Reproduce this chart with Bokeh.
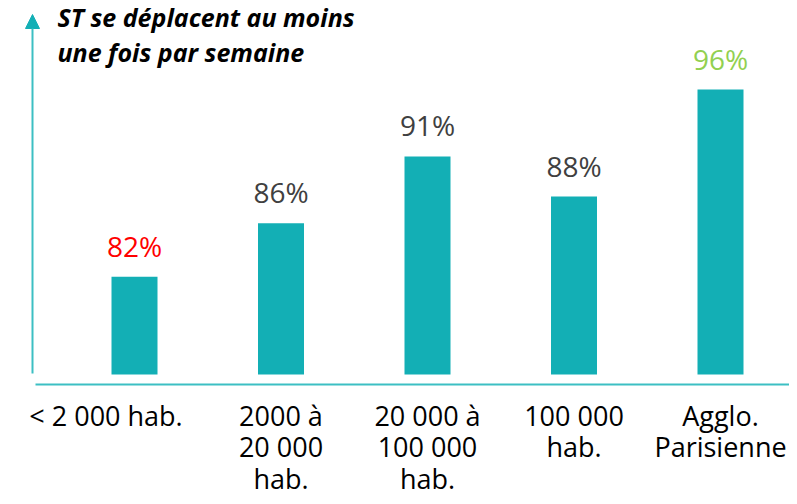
from bokeh.plotting import figure
from bokeh.models import Range1d, ColumnDataSource, Label, Arrow, NormalHead
from bokeh.core.properties import value
from bokeh.embed import file_html
from bokeh.resources import INLINE

categories = ["< 2 000 hab.", "2000 à\n20 000\nhab.", "20 000 à\n100 000\nhab.", "100 000\nhab.", "Agglo.\nParisienne"]
percents = [82, 86, 91, 88, 96]
label_colors = ["#FF0000", "#404040", "#404040", "#404040", "#92D050"]
title_lines = ["ST se déplacent au moins", "une fois par semaine"]

W, H = 789, 496
# pixel geometry (canvas coordinates, y from top)
x0_px, dx_px = 134.0, 146.5
base_px, scale = 374.0, 13.375
base_val = 74.7

def px2x(px):
    return (px - x0_px) / dx_px

def px2y(py):
    return base_val + (base_px - py) / scale

p = figure(width=W, height=H, output_backend="svg", toolbar_location=None,
           x_range=Range1d(px2x(0), px2x(W)), y_range=Range1d(px2y(H), px2y(0)),
           min_border=0, outline_line_color=None)
p.axis.visible = False
p.grid.visible = False
p.background_fill_color = "white"
p.border_fill_color = "white"

xs = list(range(len(categories)))
src = ColumnDataSource(dict(x=xs, top=percents, lab=[f"{v}%" for v in percents],
                            col=label_colors, cat=categories))

p.vbar(x="x", top="top", bottom=base_val, width=46 / dx_px, source=src,
       fill_color="#13AFB5", line_color=None)

p.text(x="x", y="top", text="lab", source=src, text_color="col",
       text_font=value("Open Sans"), text_font_size="28px",
       text_align="center", text_baseline="alphabetic", y_offset=-31)

lab_x = [px2x(105.5)] + xs[1:]
src2 = ColumnDataSource(dict(x=lab_x, t=categories))
p.text(x="x", y=px2y(396), text="t", source=src2, text_color="#000000",
       text_font=value("Open Sans"), text_font_size="27px", text_line_height=0.86,
       text_align="center", text_baseline="top")

# axes lines
axis_col = "#3CBFC3"
p.segment(x0=[px2x(35)], y0=[px2y(384)], x1=[px2x(W)], y1=[px2y(384)],
          line_color=axis_col, line_width=2)
p.add_layout(Arrow(end=NormalHead(size=14, fill_color="#13AFB5", line_color="#13AFB5"),
                   x_start=px2x(32), y_start=px2y(373), x_end=px2x(32), y_end=px2y(14),
                   line_color=axis_col, line_width=2))

for i, t in enumerate(title_lines):
    p.add_layout(Label(x=57, y=H - 33 - 35 * i, x_units="screen", y_units="screen",
                       text=t, text_font="Open Sans", text_font_size="25px",
                       text_font_style="bold italic", text_color="#000000"))

open("out.html", "w").write(file_html(p, INLINE))
